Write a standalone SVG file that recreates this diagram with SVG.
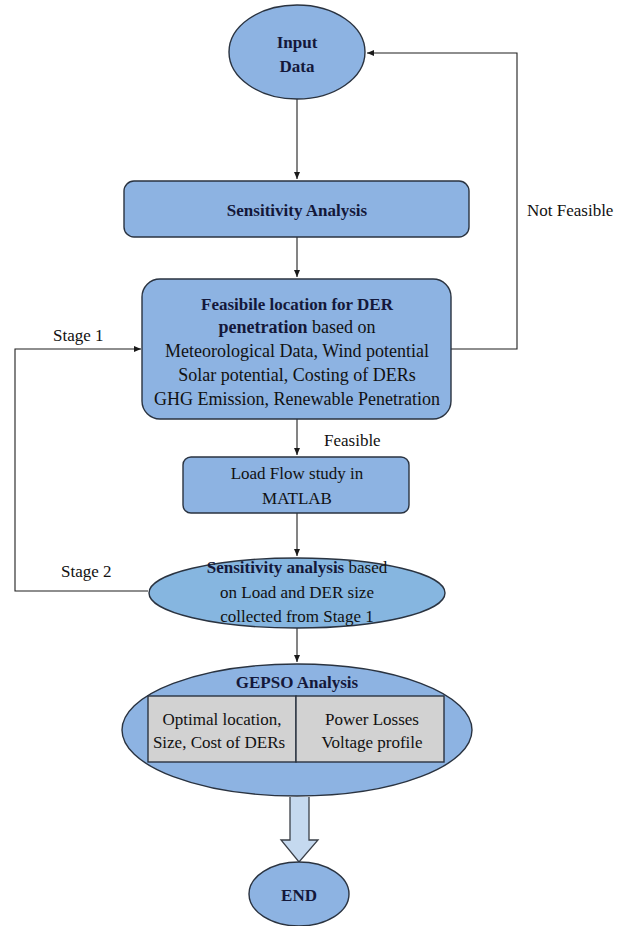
<svg xmlns="http://www.w3.org/2000/svg" width="622" height="926" viewBox="0 0 622 926">
<defs>
<marker id="ah" markerWidth="8" markerHeight="8" refX="7" refY="4" orient="auto" markerUnits="userSpaceOnUse">
<path d="M0,1 L7,4 L0,7 Z" fill="#1a1a1a"/>
</marker>
<style>
.node{fill:#8db3e2;stroke:#2a3340;stroke-width:1.4}
.gray{fill:#d2d2d2;stroke:#2a3340;stroke-width:1.4}
.t{font-family:"Liberation Serif","Times New Roman",serif;font-size:17px;fill:#111;text-anchor:middle}
.big{font-size:18px}
.b{font-weight:bold;fill:#14183a}
.lbl{font-family:"Liberation Serif","Times New Roman",serif;font-size:17px;fill:#111}
.c{fill:none;stroke:#1f1f1f;stroke-width:1.1}
</style>
</defs>
<rect width="622" height="926" fill="#fff"/>
<g id="connectors">
<path class="c" d="M297,99 V179" marker-end="url(#ah)"/>
<path class="c" d="M297,237 V277" marker-end="url(#ah)"/>
<path class="c" d="M297,419 V455" marker-end="url(#ah)"/>
<path class="c" d="M297,513 V556" marker-end="url(#ah)"/>
<path class="c" d="M297,628 V662" marker-end="url(#ah)"/>
<path class="c" d="M451,349 H517 V53 H367" marker-end="url(#ah)"/>
<path class="c" d="M148,591 H15 V349 H141" marker-end="url(#ah)"/>
<text class="lbl" x="527" y="216">Not Feasible</text>
<text class="lbl" x="53" y="341">Stage 1</text>
<text class="lbl" x="324" y="446">Feasible</text>
<text class="lbl" x="61" y="577">Stage 2</text>
<path d="M290,797 V840 H281 L299,862 L318,840 H309 V797" fill="#c5d9ef" stroke="#3a3f47" stroke-width="1.3"/>
</g>
<g id="input">
<ellipse class="node" cx="297" cy="52" rx="68" ry="47"/>
<text class="t b" x="297" y="48">Input</text>
<text class="t b" x="297" y="72">Data</text>
</g>
<g id="sensitivity">
<rect class="node" x="124" y="181" width="345" height="56" rx="10"/>
<text class="t b" x="297" y="216">Sensitivity Analysis</text>
</g>
<g id="feasible">
<rect class="node" x="142" y="279" width="309" height="140" rx="18"/>
<text class="t b" x="297" y="310">Feasibile location for DER</text>
<text class="t big" x="297" y="333"><tspan class="b">penetration</tspan> based on</text>
<text class="t big" x="297" y="357">Meteorological Data, Wind potential</text>
<text class="t big" x="297" y="381">Solar potential, Costing of DERs</text>
<text class="t big" x="297" y="405">GHG Emission, Renewable Penetration</text>
</g>
<g id="loadflow">
<rect class="node" x="183" y="457" width="226" height="56" rx="8"/>
<text class="t" x="297" y="479">Load Flow study in</text>
<text class="t" x="297" y="504">MATLAB</text>
</g>
<g id="sens2">
<ellipse cx="297" cy="593" rx="148" ry="35" fill="#86b6e0" stroke="#2a3340" stroke-width="1.4"/>
<text class="t" x="297" y="573"><tspan class="b">Sensitivity analysis</tspan> based</text>
<text class="t" x="297" y="598">on Load and DER size</text>
<text class="t" x="297" y="622">collected from Stage 1</text>
</g>
<g id="gepso">
<ellipse class="node" cx="297" cy="730" rx="175" ry="66"/>
<text class="t b" x="297" y="688">GEPSO Analysis</text>
<rect class="gray" x="148" y="696" width="148" height="66"/>
<rect class="gray" x="296" y="696" width="148" height="66"/>
<text class="t" x="222" y="725">Optimal location,</text>
<text class="t" x="219" y="748">Size, Cost of DERs</text>
<text class="t" x="372" y="725">Power Losses</text>
<text class="t" x="372" y="748">Voltage profile</text>
</g>
<g id="end">
<ellipse class="node" cx="299" cy="894" rx="50" ry="32"/>
<text class="t b" x="299" y="901">END</text>
</g>
</svg>
